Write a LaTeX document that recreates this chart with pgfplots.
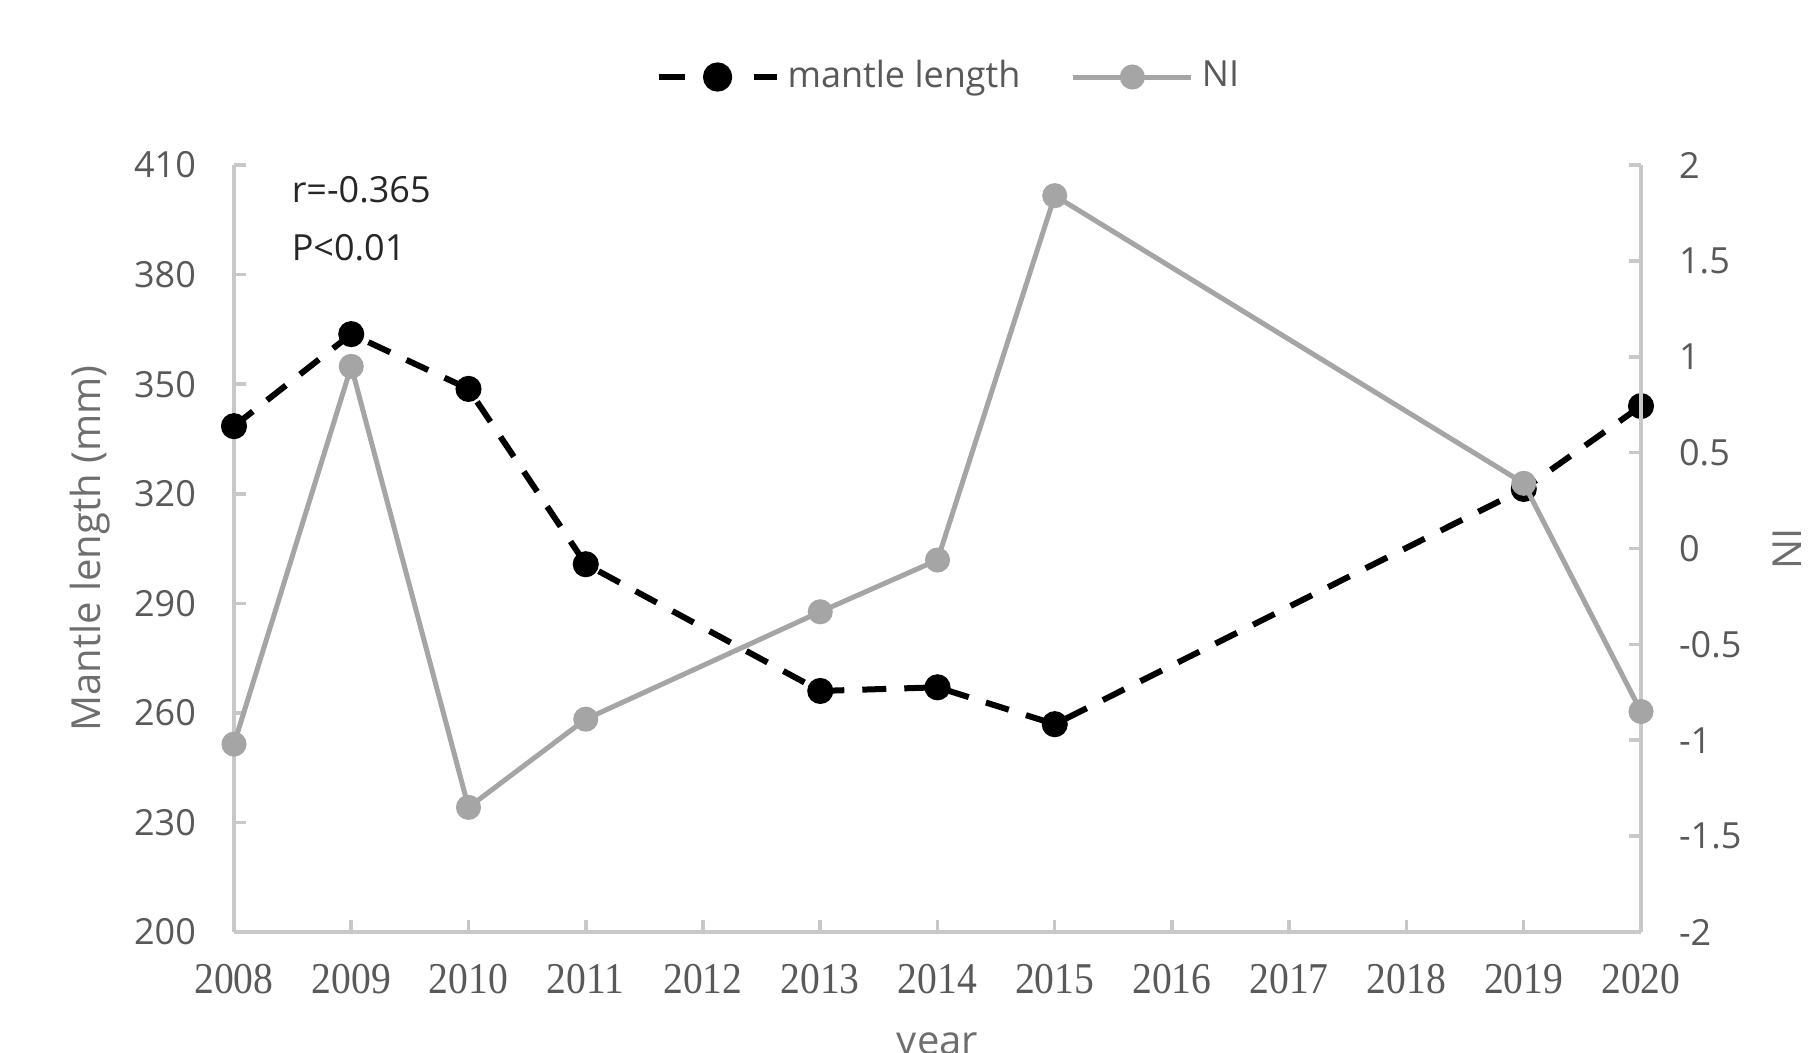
\documentclass[border=0pt]{standalone}
\usepackage{fontspec}
\setmainfont{Open Sans}
\newfontfamily\xserif[FakeStretch=0.9]{Liberation Serif}
\usepackage{pgfplots}
\pgfplotsset{compat=1.18}

\definecolor{axisgray}{HTML}{C8C8C8}
\definecolor{labelgray}{HTML}{595959}
\definecolor{titlegray}{HTML}{6E6E6E}
\definecolor{nigray}{HTML}{A5A5A5}
\definecolor{darktext}{HTML}{262626}

\pgfplotsset{
  common/.style={
    width=351.75pt, height=191.75pt, scale only axis,
    xmin=2008, xmax=2020, clip=false,
    axis line style={draw=axisgray, line width=0.9pt, -},
    tick style={draw=axisgray, line width=0.9pt},
    tick align=inside, major tick length=3pt,
    /pgf/number format/assume math mode=true,
    /pgf/number format/1000 sep={},
    tick label style={font=\fontsize{9}{10}\selectfont, text=labelgray},
  },
}

\begin{document}
\begin{tikzpicture}

% left axis: mantle length
\begin{axis}[common,
  axis x line*=bottom, axis y line*=left,
  ymin=200, ymax=410, ytick={200,230,260,290,320,350,380,410},
  xtick={2008,2009,...,2020},
  xticklabel style={font=\xserif\fontsize{11}{12}\selectfont, yshift=-4.5pt},
  yticklabel style={xshift=-6pt},
  ylabel={Mantle length (mm)},
  every axis y label/.style={at={(axis description cs:0,0.5)}, xshift=-36pt,
    rotate=90, anchor=center, font=\fontsize{10}{12}\selectfont, text=titlegray},
  xlabel={year},
  every axis x label/.style={at={(axis description cs:0.5,0)}, yshift=-25pt,
    anchor=north, inner sep=0pt, font=\fontsize{10}{12}\selectfont, text=titlegray},
]
\coordinate (BL) at (rel axis cs:0,0);
\coordinate (TR) at (rel axis cs:1,1);
\addplot[black, line width=1.5pt, dash pattern=on 6pt off 4.5pt,
  mark=*, mark size=2.5pt, mark options={solid}]
  coordinates {(2008,338.5)(2009,363.7)(2010,348.7)(2011,300.7)(2013,266.0)
               (2014,267.0)(2015,256.9)(2019,321.3)(2020,344.0)};
\node[anchor=west, inner sep=0pt, xshift=14.25pt, yshift=-6.25pt,
  font=\fontsize{9}{10}\selectfont, text=darktext]
  at (axis description cs:0,1) {r=-0.365};
\node[anchor=west, inner sep=0pt, xshift=14.25pt, yshift=-20.75pt,
  font=\fontsize{9}{10}\selectfont, text=darktext]
  at (axis description cs:0,1) {P<0.01};
\end{axis}

% right axis: NI
\begin{axis}[common,
  axis y line*=right, axis x line=none,
  ymin=-2, ymax=2, ytick={-2,-1.5,-1,-0.5,0,0.5,1,1.5,2},
  yticklabel style={xshift=6pt},
  ylabel={NI},
  every axis y label/.style={at={(axis description cs:1,0.5)}, xshift=36.5pt,
    rotate=90, anchor=center, font=\fontsize{10}{12}\selectfont, text=titlegray},
  legend columns=2,
  legend image code/.code={\draw[mark repeat=2, mark phase=2]
    plot coordinates {(0pt,0pt)(14.75pt,0pt)(29.5pt,0pt)};},
  legend style={at={(axis description cs:0.5,1)}, anchor=center,
    yshift=22pt, xshift=3.45pt, draw=none, fill=none,
    font=\fontsize{9}{10}\selectfont, text=labelgray,
    /tikz/every even column/.append style={column sep=10.6pt}},
]
\addlegendimage{black, line width=1.5pt, dash pattern=on 6.5pt off 5.4pt,
  mark=*, mark size=2.9pt, mark options={solid}}
\addlegendentry{mantle length}
\addplot[nigray, line width=1.25pt, mark=*, mark size=2.5pt]
  coordinates {(2008,-1.02)(2009,0.95)(2010,-1.35)(2011,-0.89)(2013,-0.33)
               (2014,-0.06)(2015,1.84)(2019,0.34)(2020,-0.85)};
\addlegendentry{NI}
\end{axis}

\pgfresetboundingbox
\path ([xshift=-58.5pt,yshift=-30pt]BL) rectangle ([xshift=41.75pt,yshift=41.25pt]TR);
\end{tikzpicture}
\end{document}
